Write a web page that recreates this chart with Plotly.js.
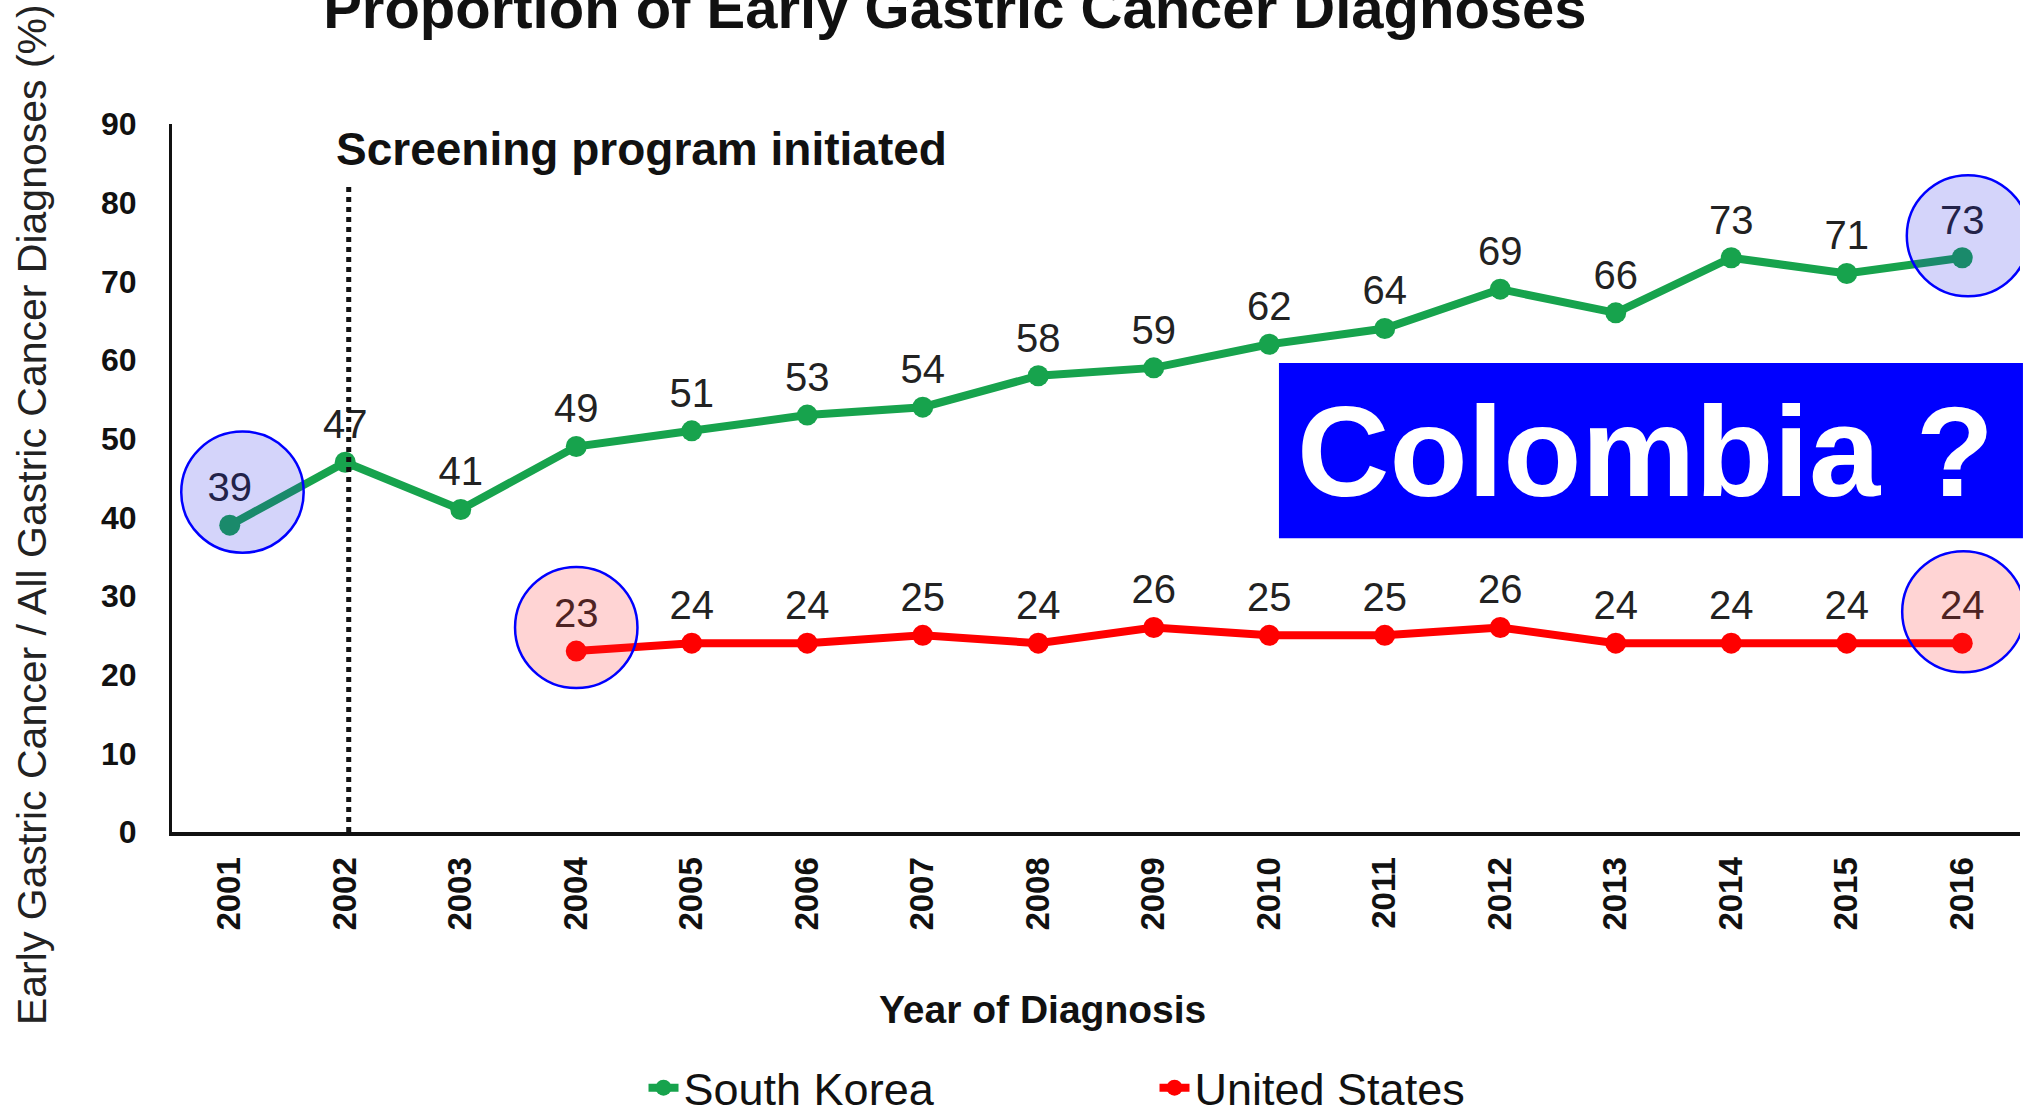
<!DOCTYPE html>
<html>
<head>
<meta charset="utf-8">
<script src="https://cdn.plot.ly/plotly-3.0.1.min.js"></script>
<style>html,body{margin:0;padding:0;background:#fff;}#chart{width:2030px;height:1117px;}</style>
</head>
<body>
<div id="chart"></div>
<script>
// ---- data ----
const years = ['2001','2002','2003','2004','2005','2006','2007','2008','2009','2010','2011','2012','2013','2014','2015','2016'];
const southKorea = [39,47,41,49,51,53,54,58,59,62,64,69,66,73,71,73];
const unitedStates = [null,null,null,23,24,24,25,24,26,25,25,26,24,24,24,24];
const yTicks = [0,10,20,30,40,50,60,70,80,90];
const screeningYear = '2002';
const highlightSK = ['2001','2016'];
const highlightUS = ['2004','2016'];

const FONT = 'Liberation Sans, Arial, sans-serif';
const GREEN = '#17A34D';
const RED = '#FF0000';

function labels(arr){ return arr.map(v => v === null ? '' : String(v)); }

const traces = [
  {
    x: years, y: southKorea, name: 'South Korea', type: 'scatter', mode: 'lines+markers+text',
    line: {color: GREEN, width: 8}, marker: {color: GREEN, size: 21},
    text: labels(southKorea), textposition: 'top center',
    textfont: {family: FONT, size: 40, color: '#222'}, cliponaxis: false
  },
  {
    x: years, y: unitedStates, name: 'United States', type: 'scatter', mode: 'lines+markers+text',
    line: {color: RED, width: 8}, marker: {color: RED, size: 21},
    text: labels(unitedStates), textposition: 'top center',
    textfont: {family: FONT, size: 40, color: '#222'}, cliponaxis: false, connectgaps: false
  }
];

const shapes = [];
// screening dotted line
const sIdx = years.indexOf(screeningYear);
shapes.push({type:'line', xref:'x', yref:'y', x0: sIdx + 0.03, x1: sIdx + 0.03, y0: 0, y1: 82,
  line:{color:'#111', width:5, dash:'dot'}, layer:'above'});

function circle(idx, val, fill, dx, dy){
  const cy = val + dy, rx = 0.53, ry = 7.7;
  return {type:'circle', xref:'x', yref:'y', x0: idx - rx + dx, x1: idx + rx + dx, y0: cy - ry, y1: cy + ry,
    fillcolor: fill, line:{color:'#0000FF', width:2.5}, layer:'above'};
}
const skOff = [[0.11, 4.2],[0.05, 2.8]];
const usOff = [[0.0, 3.0],[0.01, 4.0]];
highlightSK.forEach((y,k) => { const i = years.indexOf(y); shapes.push(circle(i, southKorea[i], 'rgba(40,40,230,0.2)', skOff[k][0], skOff[k][1])); });
highlightUS.forEach((y,k) => { const i = years.indexOf(y); shapes.push(circle(i, unitedStates[i], 'rgba(255,40,40,0.2)', usOff[k][0], usOff[k][1])); });

// Colombia box
shapes.push({type:'rect', xref:'paper', yref:'paper', x0:0.599, x1:1.0016, y0:0.415, y1:0.6624,
  fillcolor:'#0000FF', line:{width:0}, layer:'above'});

const annotations = [
  {text:'<b>Screening program initiated</b>', xref:'paper', yref:'paper', x:0.0877, y:0.9647,
   xanchor:'left', yanchor:'middle', showarrow:false, font:{family:FONT, size:46, color:'#111'}},
  {text:'<b>Colombia ?</b>', xref:'paper', yref:'paper', x:0.7976, y:0.538,
   xanchor:'center', yanchor:'middle', showarrow:false, font:{family:FONT, size:128, color:'#FFFFFF'}},
  {text:'<b>Year of Diagnosis</b>', xref:'paper', yref:'paper', x:0.4713, y:-0.2514,
   xanchor:'center', yanchor:'middle', showarrow:false, font:{family:FONT, size:39, color:'#111'}},
  {text:'Early Gastric Cancer / All Gastric Cancer Diagnoses (%)', xref:'paper', yref:'paper', x:-0.0758, y:0.449,
   xanchor:'center', yanchor:'middle', textangle:-90, showarrow:false, font:{family:FONT, size:41, color:'#222'}}
];

const layout = {
  width: 2030, height: 1117, autosize: false,
  margin: {l:172, r:10, t:124, b:285, pad:0},
  paper_bgcolor:'#fff', plot_bgcolor:'#fff',
  font: {family: FONT, color:'#111'},
  title: {text:'<b>Proportion of Early Gastric Cancer Diagnoses</b>', x: 0.4704, xanchor:'center',
    xref:'container', yref:'container', y: 0.993, yanchor:'middle', font:{family:FONT, size:58, color:'#111'}},
  xaxis: {type:'category', range:[-0.5, 15.5], showgrid:false, zeroline:false, showline:true,
    linecolor:'#111', linewidth:4, ticks:'', tickangle:-90, ticklabelstandoff: 8,
    tickfont:{family:FONT, size:33, color:'#111', weight:'bold'}},
  yaxis: {range:[0, 90], tickvals: yTicks, showgrid:false, zeroline:false, showline:true,
    linecolor:'#111', linewidth:3, ticks:'', ticklabelstandoff: 26,
    tickfont:{family:FONT, size:32, color:'#111', weight:'bold'}},
  showlegend: true,
  legend: {orientation:'h', xref:'container', yref:'container', x:0.317, xanchor:'left', y:0.026, yanchor:'middle',
    font:{family:FONT, size:45, color:'#111'}, entrywidth: 466, entrywidthmode:'pixels', bgcolor:'rgba(0,0,0,0)'},
  shapes: shapes, annotations: annotations
};

Plotly.newPlot('chart', traces, layout, {displayModeBar:false, staticPlot:true});
</script>
</body>
</html>
